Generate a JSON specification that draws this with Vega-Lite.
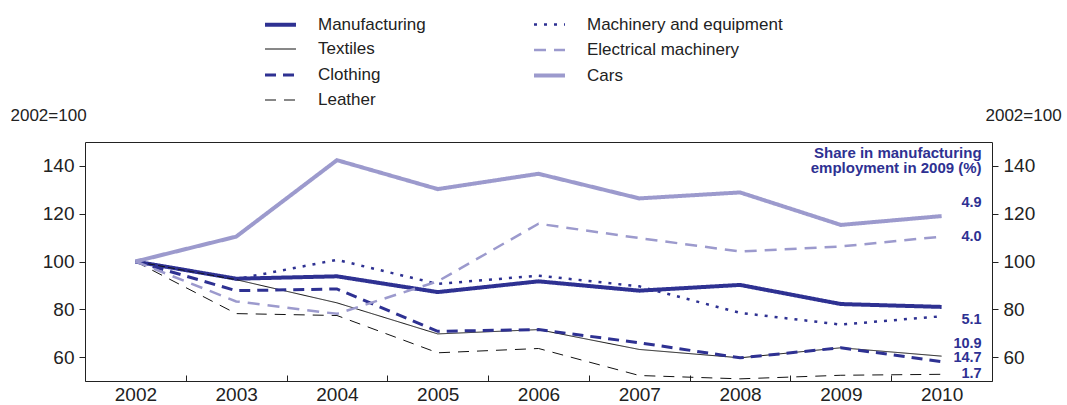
{
  "$schema": "https://vega.github.io/schema/vega-lite/v6.json",
  "autosize": {"type": "none"},
  "width": 907,
  "height": 239,
  "padding": {"left": 85, "top": 142, "right": 75, "bottom": 24},
  "background": "white",
  "config": {
    "font": "Liberation Sans",
    "view": {"stroke": "#222222", "strokeWidth": 1},
    "axis": {"labelFont": "Liberation Sans", "titleFont": "Liberation Sans", "labelColor": "#222222", "titleColor": "#222222", "domain": false, "grid": false, "tickColor": "#222222"},
    "legend": {
      "orient": "none",
      "legendX": 178,
      "legendY": -135,
      "columns": 2,
      "direction": "vertical",
      "symbolType": "stroke",
      "symbolSize": 960,
      "labelFont": "Liberation Sans",
      "labelFontSize": 17,
      "labelColor": "#222222",
      "labelOffset": 20,
      "columnPadding": 100,
      "rowPadding": 0,
      "labelLimit": 400
    }
  },
  "datasets": {
    "lines": [
      {"series": "Manufacturing", "year": "2002", "value": 100},
      {"series": "Manufacturing", "year": "2003", "value": 92.8},
      {"series": "Manufacturing", "year": "2004", "value": 93.8},
      {"series": "Manufacturing", "year": "2005", "value": 87.2},
      {"series": "Manufacturing", "year": "2006", "value": 91.7},
      {"series": "Manufacturing", "year": "2007", "value": 87.8},
      {"series": "Manufacturing", "year": "2008", "value": 90.2},
      {"series": "Manufacturing", "year": "2009", "value": 82.2},
      {"series": "Manufacturing", "year": "2010", "value": 81.0},
      {"series": "Textiles", "year": "2002", "value": 100},
      {"series": "Textiles", "year": "2003", "value": 92.4},
      {"series": "Textiles", "year": "2004", "value": 82.7},
      {"series": "Textiles", "year": "2005", "value": 69.7},
      {"series": "Textiles", "year": "2006", "value": 71.5},
      {"series": "Textiles", "year": "2007", "value": 63.2},
      {"series": "Textiles", "year": "2008", "value": 59.7},
      {"series": "Textiles", "year": "2009", "value": 63.9},
      {"series": "Textiles", "year": "2010", "value": 60.4},
      {"series": "Clothing", "year": "2002", "value": 100},
      {"series": "Clothing", "year": "2003", "value": 87.8},
      {"series": "Clothing", "year": "2004", "value": 88.5},
      {"series": "Clothing", "year": "2005", "value": 70.8},
      {"series": "Clothing", "year": "2006", "value": 71.5},
      {"series": "Clothing", "year": "2007", "value": 66.0},
      {"series": "Clothing", "year": "2008", "value": 59.7},
      {"series": "Clothing", "year": "2009", "value": 63.9},
      {"series": "Clothing", "year": "2010", "value": 58.1},
      {"series": "Leather", "year": "2002", "value": 100},
      {"series": "Leather", "year": "2003", "value": 78.2},
      {"series": "Leather", "year": "2004", "value": 77.4},
      {"series": "Leather", "year": "2005", "value": 61.8},
      {"series": "Leather", "year": "2006", "value": 63.6},
      {"series": "Leather", "year": "2007", "value": 52.3},
      {"series": "Leather", "year": "2008", "value": 50.9},
      {"series": "Leather", "year": "2009", "value": 52.4},
      {"series": "Leather", "year": "2010", "value": 52.8},
      {"series": "Machinery and equipment", "year": "2002", "value": 100},
      {"series": "Machinery and equipment", "year": "2003", "value": 92.6},
      {"series": "Machinery and equipment", "year": "2004", "value": 100.7},
      {"series": "Machinery and equipment", "year": "2005", "value": 90.6},
      {"series": "Machinery and equipment", "year": "2006", "value": 94.1},
      {"series": "Machinery and equipment", "year": "2007", "value": 89.6},
      {"series": "Machinery and equipment", "year": "2008", "value": 78.5},
      {"series": "Machinery and equipment", "year": "2009", "value": 73.6},
      {"series": "Machinery and equipment", "year": "2010", "value": 77.1},
      {"series": "Electrical machinery", "year": "2002", "value": 100},
      {"series": "Electrical machinery", "year": "2003", "value": 83.3},
      {"series": "Electrical machinery", "year": "2004", "value": 78.1},
      {"series": "Electrical machinery", "year": "2005", "value": 91.7},
      {"series": "Electrical machinery", "year": "2006", "value": 115.8},
      {"series": "Electrical machinery", "year": "2007", "value": 109.8},
      {"series": "Electrical machinery", "year": "2008", "value": 104.2},
      {"series": "Electrical machinery", "year": "2009", "value": 106.3},
      {"series": "Electrical machinery", "year": "2010", "value": 110.4},
      {"series": "Cars", "year": "2002", "value": 100},
      {"series": "Cars", "year": "2003", "value": 110.4},
      {"series": "Cars", "year": "2004", "value": 142.4},
      {"series": "Cars", "year": "2005", "value": 130.3},
      {"series": "Cars", "year": "2006", "value": 136.7},
      {"series": "Cars", "year": "2007", "value": 126.4},
      {"series": "Cars", "year": "2008", "value": 128.9},
      {"series": "Cars", "year": "2009", "value": 115.3},
      {"series": "Cars", "year": "2010", "value": 119.0}
    ],
    "header": [
      {"year": "2010", "pos": 145.3, "text": "Share in manufacturing\nemployment in 2009 (%)"}
    ],
    "labels": [
      {"year": "2010", "pos": 124.3, "text": "4.9"},
      {"year": "2010", "pos": 110.4, "text": "4.0"},
      {"year": "2010", "pos": 75.4, "text": "5.1"},
      {"year": "2010", "pos": 65.6, "text": "10.9"},
      {"year": "2010", "pos": 59.5, "text": "14.7"},
      {"year": "2010", "pos": 53.1, "text": "1.7"}
    ]
  },
  "layer": [
    {
      "data": {"name": "lines"},
      "mark": {"type": "line", "strokeCap": "butt", "strokeJoin": "miter"},
      "encoding": {
        "x": {
          "field": "year", "type": "ordinal",
          "scale": {"type": "band", "paddingInner": 0, "paddingOuter": 0},
          "axis": {"title": null, "labelAngle": 0, "labelFontSize": 19, "tickBand": "extent", "tickSize": -6, "labelPadding": 10, "ticks": true}
        },
        "y": {
          "field": "value", "type": "quantitative",
          "scale": {"domain": [50, 150], "nice": false, "zero": false},
          "axis": {"orient": "left", "values": [60, 80, 100, 120, 140], "labelFontSize": 19, "tickSize": 6, "labelPadding": 5, "title": "2002=100", "titleAngle": 0, "titleAlign": "left", "titleBaseline": "middle", "titleX": -75, "titleY": -27, "titleFontSize": 17, "titleFontWeight": "normal"}
        },
        "color": {
          "field": "series", "type": "nominal",
          "scale": {"domain": ["Manufacturing", "Textiles", "Clothing", "Leather", "Machinery and equipment", "Electrical machinery", "Cars"], "range": ["#2e3192", "#111111", "#2e3192", "#111111", "#2e3192", "#9c9acd", "#9c9acd"]},
          "legend": {"title": null}
        },
        "strokeDash": {
          "field": "series", "type": "nominal",
          "scale": {"domain": ["Manufacturing", "Textiles", "Clothing", "Leather", "Machinery and equipment", "Electrical machinery", "Cars"], "range": [[1, 0], [1, 0], [11, 7], [11, 8], [3, 7], [12, 8], [1, 0]]},
          "legend": {"title": null}
        },
        "strokeWidth": {
          "field": "series", "type": "nominal",
          "scale": {"type": "ordinal", "domain": ["Manufacturing", "Textiles", "Clothing", "Leather", "Machinery and equipment", "Electrical machinery", "Cars"], "range": [4, 1, 3, 1, 2.5, 2.5, 4]},
          "legend": {"title": null}
        }
      }
    },
    {
      "data": {"name": "header"},
      "mark": {"type": "text", "align": "right", "baseline": "middle", "dx": 40, "fontSize": 15, "fontWeight": "bold", "color": "#2e3192", "lineBreak": "\n", "lineHeight": 15},
      "encoding": {
        "x": {"field": "year", "type": "ordinal"},
        "y": {"field": "pos", "type": "quantitative", "axis": null},
        "text": {"field": "text"}
      }
    },
    {
      "data": {"name": "labels"},
      "mark": {"type": "text", "align": "right", "baseline": "middle", "dx": 40, "fontSize": 14.5, "fontWeight": "bold", "color": "#2e3192"},
      "encoding": {
        "x": {"field": "year", "type": "ordinal"},
        "y": {
          "field": "pos", "type": "quantitative",
          "axis": {"orient": "right", "values": [60, 80, 100, 120, 140], "labelFontSize": 19, "tickSize": 6, "labelPadding": 5, "title": "2002=100", "titleAngle": 0, "titleAlign": "left", "titleBaseline": "middle", "titleX": -7, "titleY": -27, "titleFontSize": 17, "titleFontWeight": "normal"}
        },
        "text": {"field": "text"}
      }
    }
  ],
  "resolve": {"axis": {"y": "independent"}}
}
